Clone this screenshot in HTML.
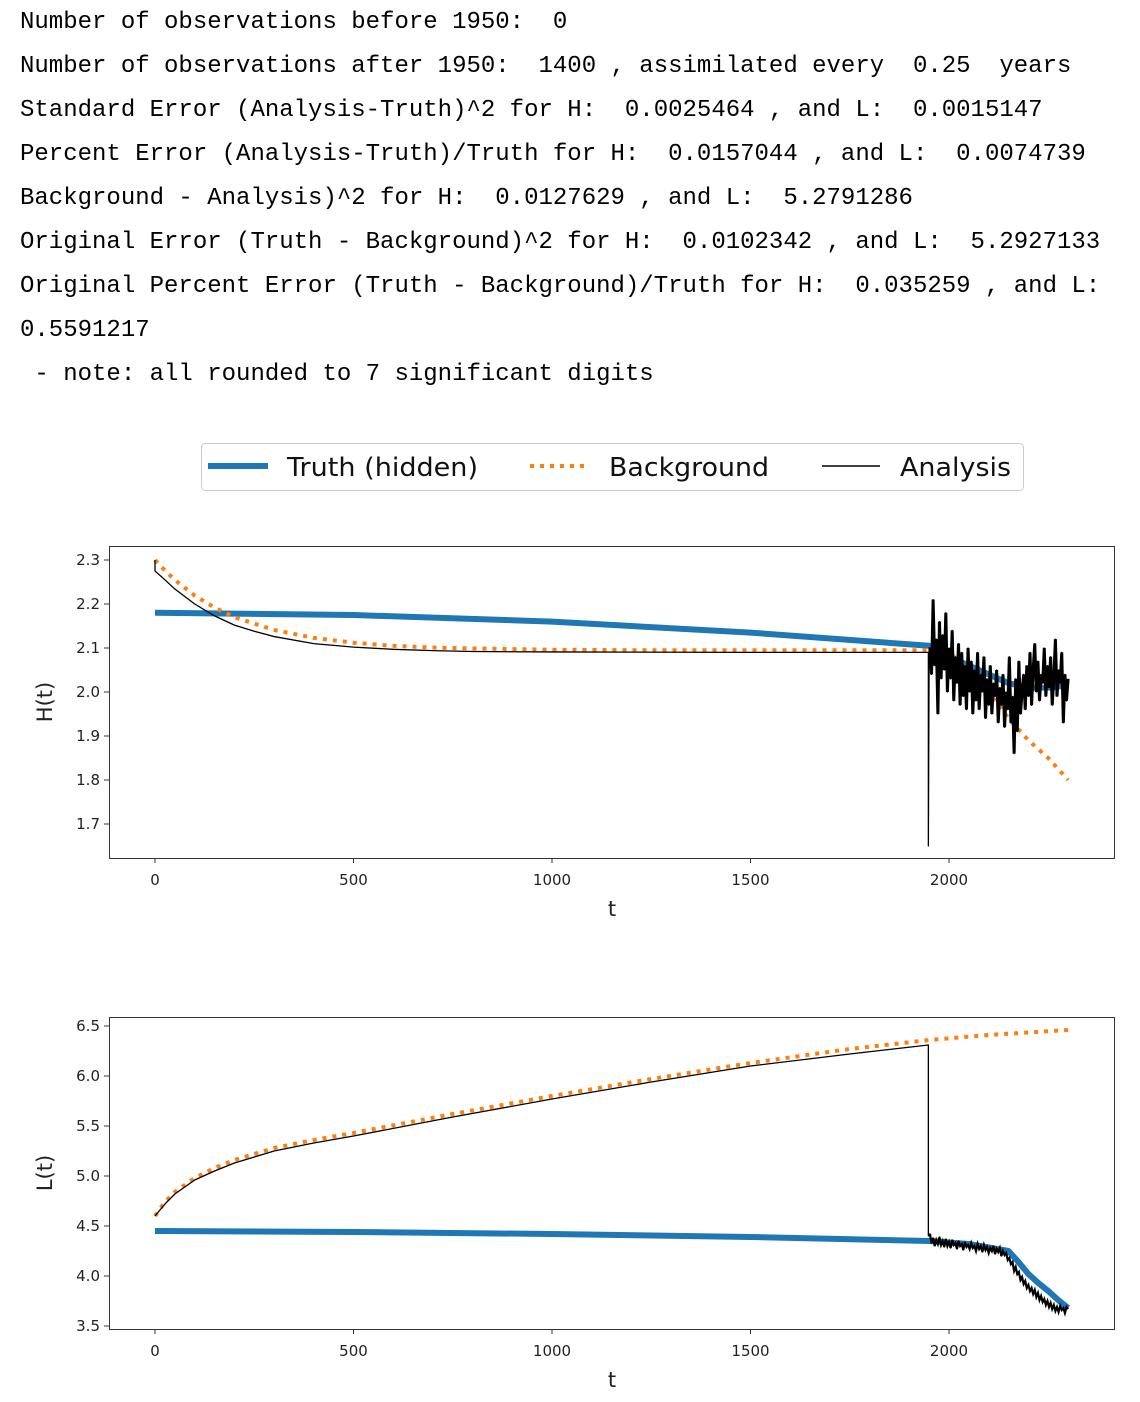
<!DOCTYPE html>
<html><head><meta charset="utf-8">
<style>
html,body{margin:0;padding:0;background:#fff;width:1140px;height:1402px;overflow:hidden}
.out{position:absolute;left:20px;font-family:"Liberation Mono",monospace;font-size:24px;color:#000;white-space:pre;line-height:30px}
</style></head><body>
<div class="out" style="top:8px">Number of observations before 1950:  0</div>
<div class="out" style="top:52px">Number of observations after 1950:  1400 , assimilated every  0.25  years</div>
<div class="out" style="top:96px">Standard Error (Analysis-Truth)^2 for H:  0.0025464 , and L:  0.0015147</div>
<div class="out" style="top:140px">Percent Error (Analysis-Truth)/Truth for H:  0.0157044 , and L:  0.0074739</div>
<div class="out" style="top:184px">Background - Analysis)^2 for H:  0.0127629 , and L:  5.2791286</div>
<div class="out" style="top:228px">Original Error (Truth - Background)^2 for H:  0.0102342 , and L:  5.2927133</div>
<div class="out" style="top:272px">Original Percent Error (Truth - Background)/Truth for H:  0.035259 , and L:</div>
<div class="out" style="top:316px">0.5591217</div>
<div class="out" style="top:360px"> - note: all rounded to 7 significant digits</div>

<svg id="chart" width="1140" height="1402" style="position:absolute;left:0;top:0" xmlns="http://www.w3.org/2000/svg" font-family="DejaVu Sans, Liberation Sans, sans-serif">
  <g>
    <rect x="201.5" y="443.5" width="822" height="47" rx="4" fill="#fff" stroke="#ccc"/>
    <g>
      <line x1="208" y1="466" x2="268" y2="466" stroke="#1f77b4" stroke-width="6"/>
      <text x="287" y="476" font-size="26" fill="#111" textLength="191" lengthAdjust="spacingAndGlyphs">Truth (hidden)</text>
    </g>
    <g>
      <line x1="530" y1="466" x2="590" y2="466" stroke="#ff7f0e" stroke-width="4" stroke-dasharray="4 6"/>
      <text x="609" y="476" font-size="26" fill="#111" textLength="160" lengthAdjust="spacingAndGlyphs">Background</text>
    </g>
    <g>
      <line x1="822" y1="466" x2="880" y2="466" stroke="#000" stroke-width="1.5"/>
      <text x="900" y="476" font-size="26" fill="#111" textLength="111" lengthAdjust="spacingAndGlyphs">Analysis</text>
    </g>
  </g>
  <g id="panelH"></g>
  <g id="panelL"></g>
</svg>

<script>
// ---------- data ----------
const xTicks = [0, 500, 1000, 1500, 2000];
const hTicks = [1.7, 1.8, 1.9, 2.0, 2.1, 2.2, 2.3];
const lTicks = [3.5, 4.0, 4.5, 5.0, 5.5, 6.0, 6.5];

const hTruthT = [0, 500, 1000, 1500, 1950, 2000, 2100, 2150, 2200, 2250, 2300];
const hTruthV = [2.180, 2.175, 2.160, 2.135, 2.105, 2.08, 2.04, 2.02, 2.01, 2.01, 2.015];
const hBackT = [0, 25, 50, 100, 150, 200, 300, 400, 500, 600, 700, 800, 1000, 1200, 1950, 2000, 2050, 2100, 2150, 2200, 2250, 2300];
const hBackV = [2.300, 2.276, 2.255, 2.219, 2.192, 2.170, 2.141, 2.123, 2.112, 2.105, 2.101, 2.099, 2.096, 2.095, 2.095, 2.09, 2.05, 2.00, 1.94, 1.89, 1.85, 1.80];
const hAnaT = [0, 0, 25, 50, 100, 150, 200, 250, 300, 400, 500, 600, 700, 800, 1000, 1500, 1948, 1948, 1950];
const hAnaV = [2.300, 2.275, 2.255, 2.234, 2.200, 2.173, 2.152, 2.138, 2.126, 2.110, 2.102, 2.097, 2.094, 2.092, 2.091, 2.090, 2.090, 1.65, 2.10];
const noiseStartT = 1952;
const noiseStepT = 4;
const hNoiseV = [2.10,2.04,2.21,2.06,2.12,1.95,2.16,2.03,2.13,2.05,
 2.18,2.00,2.10,2.03,2.14,1.98,2.08,2.02,2.11,1.97,
 2.09,1.99,2.06,1.96,2.10,2.00,2.07,1.95,2.05,1.98,
 2.09,1.96,2.04,2.00,2.08,1.94,2.03,1.97,2.06,1.95,
 2.02,1.99,2.05,1.93,2.01,1.97,2.04,1.92,2.00,1.96,
 2.08,1.93,1.99,1.86,2.03,1.91,2.07,1.95,2.00,2.04,
 1.96,2.06,1.99,2.09,1.97,2.05,2.11,2.00,2.07,1.98,
 2.04,2.02,2.10,1.99,2.06,2.01,2.08,1.97,2.03,2.12,
 1.99,2.05,2.02,2.09,1.93,2.04,1.98,2.03];

const lTruthT = [0, 500, 1000, 1500, 1950, 2050, 2150, 2175, 2200, 2225, 2250, 2275, 2300];
const lTruthV = [4.45, 4.44, 4.42, 4.39, 4.35, 4.32, 4.25, 4.14, 4.02, 3.93, 3.85, 3.76, 3.68];
const lBackT = [0, 25, 50, 100, 150, 200, 300, 400, 500, 750, 1000, 1250, 1500, 1750, 1950, 2100, 2300];
const lBackV = [4.60, 4.74, 4.84, 4.98, 5.08, 5.16, 5.28, 5.36, 5.43, 5.62, 5.80, 5.97, 6.13, 6.27, 6.36, 6.41, 6.46];
const lAnaT = [0, 25, 50, 100, 150, 200, 300, 400, 500, 750, 1000, 1250, 1500, 1750, 1948, 1948, 1950];
const lAnaV = [4.60, 4.72, 4.82, 4.96, 5.05, 5.13, 5.25, 5.33, 5.40, 5.59, 5.77, 5.94, 6.10, 6.22, 6.31, 4.40, 4.42];
const lNoiseV = [4.42,4.33,4.38,4.30,4.36,4.32,4.39,4.31,4.35,4.29,
 4.37,4.30,4.34,4.28,4.36,4.31,4.33,4.27,4.35,4.30,
 4.32,4.26,4.34,4.29,4.31,4.27,4.33,4.28,4.30,4.25,
 4.32,4.27,4.30,4.24,4.31,4.26,4.29,4.23,4.28,4.25,
 4.30,4.22,4.27,4.24,4.28,4.20,4.25,4.21,4.23,4.16,
 4.18,4.12,4.14,4.05,4.09,4.02,4.04,3.96,3.99,3.92,
 3.95,3.88,3.91,3.85,3.88,3.82,3.86,3.79,3.83,3.76,
 3.80,3.74,3.77,3.71,3.75,3.69,3.73,3.67,3.71,3.65,
 3.69,3.64,3.70,3.66,3.68,3.63,3.69,3.67];

// ---------- drawing ----------
const NS = 'http://www.w3.org/2000/svg';
function mk(tag, attrs, parent) {
  const e = document.createElementNS(NS, tag);
  for (const k in attrs) e.setAttribute(k, attrs[k]);
  parent.appendChild(e);
  return e;
}
function path(ts, vs, sx, sy) {
  return ts.map((t, i) => (i ? 'L' : 'M') + sx(t).toFixed(2) + ',' + sy(vs[i]).toFixed(2)).join(' ');
}

function panel(g, box, yMin, yMax, yPix0, yPix1, yTicks, yLabel, truthT, truthV, backT, backV, anaT, anaV, noiseV, noiseW) {
  const sx = t => 155 + t * (949 - 155) / 2000;
  const sy = v => yPix0 + (v - yMin) * (yPix1 - yPix0) / (yMax - yMin);
  const clipId = 'clip' + yLabel.replace(/\W/g, '');
  const defs = mk('defs', {}, g);
  const cp = mk('clipPath', {id: clipId}, defs);
  mk('rect', {x: box.x, y: box.y, width: box.w, height: box.h}, cp);

  const plot = mk('g', {'clip-path': 'url(#' + clipId + ')'}, g);
  const truth = mk('path', {d: path(truthT, truthV, sx, sy), fill: 'none', stroke: '#1f77b4', 'stroke-width': 6, 'stroke-linejoin': 'round'}, plot);
  
  
  const back = mk('path', {d: path(backT, backV, sx, sy), fill: 'none', stroke: '#ff7f0e', 'stroke-width': 4, 'stroke-dasharray': '4 6'}, plot);
  
  
  const nT = noiseV.map((v, i) => noiseStartT + i * noiseStepT);
  const allT = anaT.concat(nT), allV = anaV.concat(noiseV);
  const ana = mk('path', {d: path(allT, allV, sx, sy), fill: 'none', stroke: '#000', 'stroke-width': 1.3, 'stroke-linejoin': 'round'}, plot);
  
  
  const anaN = mk('path', {d: path(nT, noiseV, sx, sy), fill: 'none', stroke: '#000', 'stroke-width': noiseW}, plot);
  
  

  const frame = mk('rect', {x: box.x + 0.5, y: box.y + 0.5, width: box.w, height: box.h, fill: 'none', stroke: '#333', 'stroke-width': 1}, g);
  
  

  xTicks.forEach(t => {
    const x = sx(t);
    const tk = mk('line', {x1: x, x2: x, y1: box.y + box.h, y2: box.y + box.h + 5, stroke: '#333'}, g);
    
    
    const tx = mk('text', {x: x, y: box.y + box.h + 27, 'font-size': 15, fill: '#222', 'text-anchor': 'middle'}, g);
    tx.textContent = String(t);
    
    
  });
  yTicks.forEach(v => {
    const y = sy(v);
    const tk = mk('line', {x1: box.x - 5, x2: box.x, y1: y, y2: y, stroke: '#333'}, g);
    
    
    const tx = mk('text', {x: box.x - 9, y: y + 5, 'font-size': 15, fill: '#222', 'text-anchor': 'end'}, g);
    tx.textContent = v.toFixed(1);
    
    
  });
  const xl = mk('text', {x: 612, y: box.y + box.h + 58, 'font-size': 21, fill: '#222', 'text-anchor': 'middle'}, g);
  xl.textContent = 't';
  
  
  const cy = box.y + box.h / 2;
  const yl = mk('text', {x: 52, y: cy, 'font-size': 21, fill: '#222', 'text-anchor': 'middle', transform: 'rotate(-90 52 ' + cy + ')'}, g);
  yl.textContent = yLabel;
  
  
}

panel(document.getElementById('panelH'), {x: 109, y: 546, w: 1005, h: 312}, 1.7, 2.3, 824, 560, hTicks, 'H(t)',
  hTruthT, hTruthV, hBackT, hBackV, hAnaT, hAnaV, hNoiseV, 3);
panel(document.getElementById('panelL'), {x: 109, y: 1017, w: 1005, h: 312}, 3.5, 6.5, 1326, 1026, lTicks, 'L(t)',
  lTruthT, lTruthV, lBackT, lBackV, lAnaT, lAnaV, lNoiseV, 2.2);
</script>
</body></html>
